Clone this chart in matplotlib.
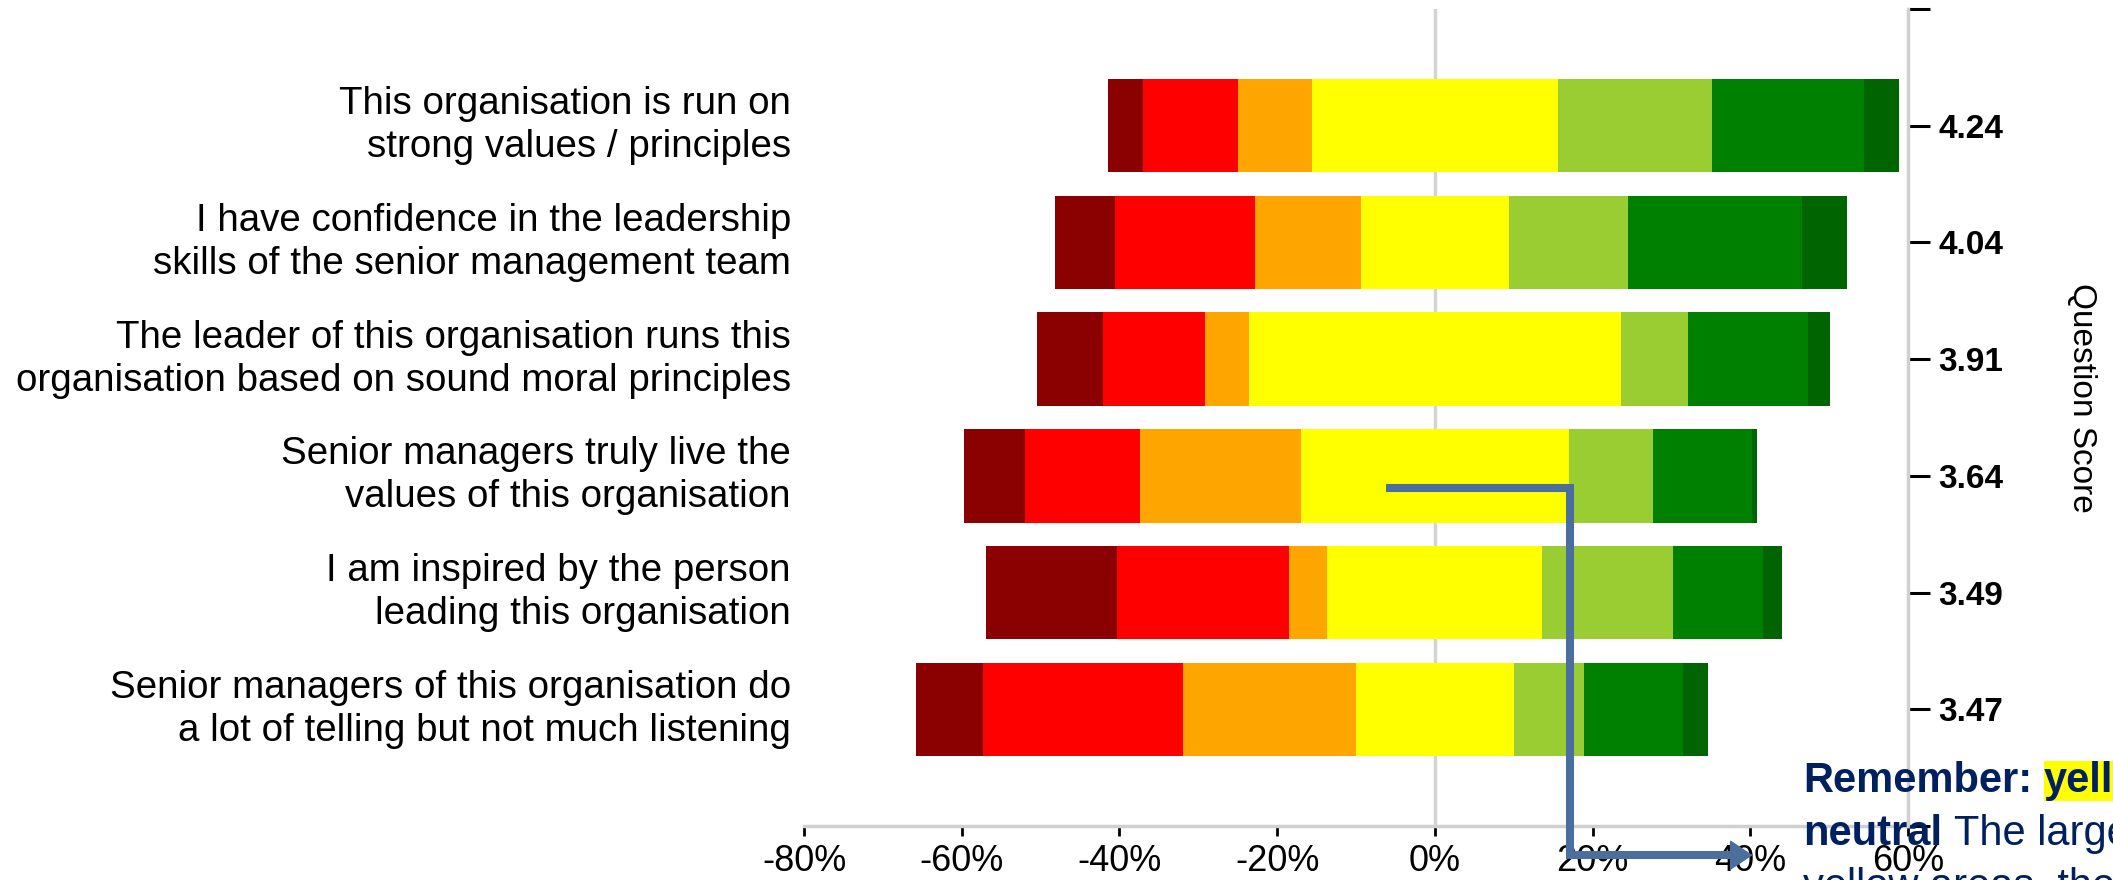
import numpy as np
import matplotlib.pyplot as plt

plt.rcParams['font.family'] = ['Liberation Sans', 'DejaVu Sans']

# Вопросы (сверху вниз) и средний балл
questions = [
    'This organisation is run on\nstrong values / principles',
    'I have confidence in the leadership\nskills of the senior management team',
    'The leader of this organisation runs this\norganisation based on sound moral principles',
    'Senior managers truly live the\nvalues of this organisation',
    'I am inspired by the person\nleading this organisation',
    'Senior managers of this organisation do\na lot of telling but not much listening',
]
scores = ['4.24', '4.04', '3.91', '3.64', '3.49', '3.47']

# Доли ответов, %
strongly_disagree = [4.5, 7.6, 8.3, 7.7, 16.7, 8.5]
disagree = [12.0, 17.8, 13.0, 14.6, 21.8, 25.3]
slightly_disagree = [9.4, 13.4, 5.5, 20.4, 4.8, 22.0]
neutral = [31.2, 18.8, 47.2, 34.0, 27.3, 20.0]
slightly_agree = [19.6, 15.1, 8.5, 10.7, 16.5, 8.9]
agree = [19.2, 22.0, 15.2, 12.5, 11.5, 12.6]
strongly_agree = [4.5, 5.8, 2.8, 0.6, 2.4, 3.2]

series = [strongly_disagree, disagree, slightly_disagree, neutral,
          slightly_agree, agree, strongly_agree]
colors = ['darkred', 'red', 'orange', 'yellow', 'yellowgreen', 'green', 'darkgreen']

x_ticks = [-80, -60, -40, -20, 0, 20, 40, 60]

fig = plt.figure(figsize=(21.13, 8.8), dpi=100)
ax = fig.add_axes([804 / 2113, 1 - 826 / 880, 1104 / 2113, 817 / 880])

y = np.arange(len(questions))
left = -(np.array(strongly_disagree) + np.array(disagree)
         + np.array(slightly_disagree) + np.array(neutral) / 2)
for vals, c in zip(series, colors):
    ax.barh(y, vals, left=left, height=0.8, color=c, linewidth=0, zorder=2)
    left = left + np.array(vals)

ax.axvline(0, color='#d4d4d4', lw=2.5, zorder=0.5)

ax.set_xlim(-80, 60)
ax.set_ylim(6, -1)
ax.set_xticks(x_ticks)
ax.set_xticklabels([f'{v}%' for v in x_ticks])
ax.set_yticks(y)
ax.set_yticklabels(questions, linespacing=1.24, va='center')
ax.tick_params(axis='x', length=7, width=2, color='black', labelsize=26, pad=6)
ax.tick_params(axis='y', length=0, labelsize=27.7, pad=9.5)

for s in ['left', 'top', 'right']:
    ax.spines[s].set_visible(False)
ax.spines['bottom'].set_color('#d0d0d0')
ax.spines['bottom'].set_linewidth(2.5)

# Правая ось с баллами
ax2 = ax.twinx()
ax2.set_ylim(6, -1)
ax2.set_yticks([-1] + list(y) + [6])
ax2.set_yticklabels([''] + scores + [''], fontweight='bold')
ax2.tick_params(axis='y', length=16, width=2.2, color='black', labelsize=24, pad=6)
for s in ['left', 'top', 'bottom']:
    ax2.spines[s].set_visible(False)
ax2.spines['right'].set_color('#d0d0d0')
ax2.spines['right'].set_linewidth(2.5)
ax.text(1.1576, 0.524, 'Question Score', rotation=-90, ha='center', va='center',
        fontsize=24, transform=ax.transAxes)

# Стрелка-подсказка
arrow_col = '#4a6e9e'
ax2.plot([-6.2, 17.1, 17.1, 38.3], [3.1, 3.1, 6.25, 6.25], color=arrow_col, lw=5.8,
         solid_joinstyle='miter', solid_capstyle='butt', clip_on=False, zorder=10)
ax2.annotate('', xy=(40.3, 6.25), xytext=(37.0, 6.25),
             arrowprops=dict(arrowstyle='-|>,head_length=0.75,head_width=0.5',
                             mutation_scale=20, color=arrow_col, lw=1,
                             shrinkA=0, shrinkB=0),
             annotation_clip=False, zorder=10)

# Текст-пояснение (обрезан краем картинки)
navy = '#002060'
fs = 30
t1 = fig.text(1803 / 2113, 1 - 792 / 880, 'Remember:', fontsize=fs, fontweight='bold',
              color=navy, va='baseline', ha='left', zorder=20)
t2 = ax2.annotate('yellow', xy=(1, 0), xycoords=t1, xytext=(8.3, 0),
                  textcoords='offset points', va='bottom', ha='left', fontsize=fs,
                  fontweight='bold', color=navy, annotation_clip=False, zorder=20,
                  bbox=dict(facecolor='yellow', edgecolor='none', pad=0))
ax2.annotate(' is', xy=(1, 0), xycoords=t2, va='bottom', ha='left', fontsize=fs,
             fontweight='bold', color=navy, annotation_clip=False, zorder=20)
t3 = fig.text(1803 / 2113, 1 - 845 / 880, 'neutral', fontsize=fs, fontweight='bold',
              color=navy, va='baseline', ha='left', zorder=20)
ax2.annotate('The larger the', xy=(1, 0), xycoords=t3, xytext=(8.3, 0),
             textcoords='offset points', va='bottom', ha='left', fontsize=fs,
             color=navy, annotation_clip=False, zorder=20)
fig.text(1803 / 2113, 1 - 898 / 880, 'yellow areas, the more', fontsize=fs,
         color=navy, va='baseline', ha='left', zorder=20)

fig.savefig('out.png', dpi=100)
